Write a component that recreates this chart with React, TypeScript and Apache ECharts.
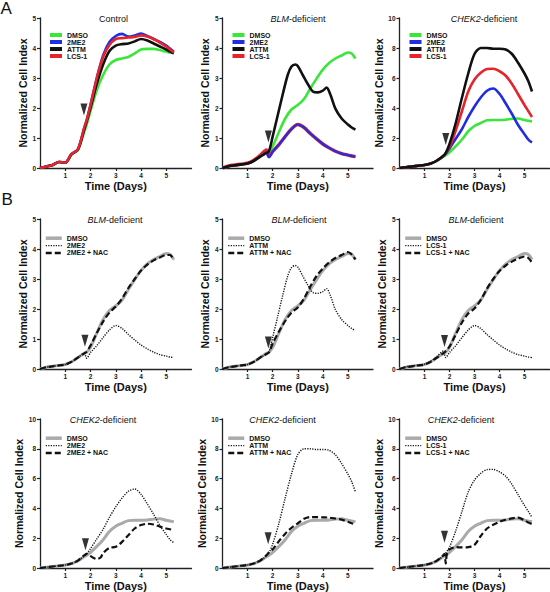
import React, { useEffect, useRef } from 'react';
import * as echarts from 'echarts';

// ---------- data ----------
const TIME = [0, 0.25, 0.5, 0.75, 1, 1.25, 1.5, 1.75, 1.85, 2, 2.25, 2.5, 2.75, 3, 3.25, 3.5, 3.75, 4, 4.25, 4.5, 4.75, 5, 5.15, 5.3];

// A: Control
const CTRL_DMSO = [0, 0.05, 0.1, 0.2, 0.18, 0.45, 0.6, 1.2, 1.45, 1.9, 2.6, 3.1, 3.45, 3.6, 3.65, 3.7, 3.82, 3.95, 3.97, 3.97, 3.93, 3.88, 3.85, 3.83];
const CTRL_2ME2 = [0, 0.05, 0.1, 0.2, 0.18, 0.47, 0.62, 1.32, 1.6, 2.1, 3.0, 3.75, 4.2, 4.4, 4.47, 4.38, 4.42, 4.48, 4.4, 4.3, 4.2, 4.08, 3.98, 3.88];
const CTRL_ATTM = [0, 0.05, 0.1, 0.2, 0.18, 0.46, 0.61, 1.28, 1.55, 2.0, 2.8, 3.45, 3.9, 4.08, 4.13, 4.15, 4.22, 4.3, 4.25, 4.15, 4.05, 3.95, 3.88, 3.82];
const CTRL_LCS1 = [0, 0.05, 0.1, 0.2, 0.18, 0.47, 0.62, 1.35, 1.6, 2.1, 3.0, 3.7, 4.1, 4.3, 4.33, 4.35, 4.37, 4.42, 4.38, 4.3, 4.18, 4.05, 3.95, 3.85];

// A: BLM-deficient
const BLM_DMSO = [0, 0.06, 0.09, 0.12, 0.15, 0.24, 0.38, 0.52, 0.56, 0.72, 1.2, 1.65, 1.95, 2.1, 2.3, 2.65, 2.98, 3.28, 3.5, 3.65, 3.75, 3.85, 3.82, 3.65];
const BLM_2ME2 = [0, 0.06, 0.09, 0.12, 0.15, 0.24, 0.38, 0.52, 0.36, 0.55, 0.78, 1.05, 1.3, 1.45, 1.35, 1.15, 0.97, 0.8, 0.67, 0.56, 0.48, 0.43, 0.4, 0.38];
const BLM_LCS1 = [0, 0.07, 0.1, 0.13, 0.16, 0.26, 0.42, 0.6, 0.38, 0.55, 0.78, 1.05, 1.3, 1.45, 1.35, 1.15, 0.97, 0.8, 0.67, 0.56, 0.48, 0.43, 0.4, 0.38];
const BLM_ATTM_TIME = [0, 0.25, 0.5, 0.75, 1, 1.25, 1.5, 1.75, 1.85, 2, 2.2, 2.4, 2.6, 2.75, 2.9, 3, 3.2, 3.4, 3.6, 3.8, 4, 4.15, 4.3, 4.5, 4.75, 5, 5.15, 5.3];
const BLM_ATTM = [0, 0.06, 0.09, 0.12, 0.15, 0.24, 0.38, 0.5, 0.55, 1.05, 1.75, 2.45, 3.1, 3.38, 3.45, 3.4, 3.1, 2.8, 2.55, 2.52, 2.58, 2.68, 2.45, 1.98, 1.65, 1.45, 1.35, 1.28];

// A: CHEK2-deficient
const CHEK_DMSO = [0, 0.05, 0.1, 0.15, 0.2, 0.3, 0.48, 0.75, 0.85, 1.05, 1.45, 1.9, 2.45, 2.8, 3.0, 3.18, 3.2, 3.2, 3.22, 3.28, 3.3, 3.2, 3.15, 3.1];
const CHEK_2ME2 = [0, 0.05, 0.1, 0.15, 0.2, 0.3, 0.5, 0.8, 0.95, 1.3, 1.95, 2.6, 3.4, 4.1, 4.7, 5.15, 5.3, 4.95, 4.3, 3.6, 2.85, 2.25, 1.9, 1.7];
const CHEK_ATTM = [0, 0.05, 0.1, 0.15, 0.2, 0.3, 0.5, 0.8, 1.0, 1.6, 3.0, 4.7, 6.3, 7.6, 8.0, 8.0, 7.95, 7.95, 7.9, 7.6, 7.0, 6.3, 5.8, 5.1];
const CHEK_LCS1 = [0, 0.05, 0.1, 0.15, 0.2, 0.3, 0.5, 0.8, 1.0, 1.4, 2.5, 3.8, 5.1, 5.9, 6.35, 6.6, 6.62, 6.45, 6.15, 5.6, 4.9, 4.2, 3.8, 3.4];

// B: + NAC
const BLM_2ME2_NAC = [0, 0.06, 0.09, 0.12, 0.15, 0.24, 0.38, 0.52, 0.58, 0.78, 1.2, 1.58, 1.88, 2.08, 2.35, 2.7, 3.0, 3.28, 3.48, 3.62, 3.72, 3.8, 3.8, 3.62];
const BLM_ATTM_NAC = [0, 0.06, 0.09, 0.12, 0.15, 0.24, 0.38, 0.5, 0.55, 0.85, 1.25, 1.6, 1.88, 2.05, 2.35, 2.75, 3.1, 3.35, 3.55, 3.7, 3.8, 3.9, 3.82, 3.65];
const BLM_LCS1_NAC = [0, 0.06, 0.09, 0.12, 0.15, 0.24, 0.38, 0.52, 0.6, 0.75, 1.15, 1.55, 1.85, 2.02, 2.3, 2.68, 3.0, 3.27, 3.45, 3.58, 3.68, 3.75, 3.7, 3.55];
const CHEK_2ME2_NAC_TIME = [0, 0.25, 0.5, 0.75, 1, 1.25, 1.5, 1.75, 1.85, 2, 2.25, 2.4, 2.5, 2.75, 3, 3.25, 3.5, 3.75, 4, 4.25, 4.5, 4.75, 5, 5.15, 5.3];
const CHEK_2ME2_NAC = [0, 0.05, 0.1, 0.15, 0.2, 0.3, 0.5, 0.85, 0.95, 0.8, 0.6, 0.7, 1.0, 1.35, 1.42, 1.75, 2.2, 2.65, 2.88, 2.97, 2.92, 2.78, 2.65, 2.6, 2.55];
const CHEK_ATTM_NAC = [0, 0.05, 0.1, 0.15, 0.2, 0.3, 0.5, 0.85, 1.05, 1.25, 1.8, 2.3, 2.7, 3.0, 3.3, 3.42, 3.42, 3.4, 3.38, 3.32, 3.25, 3.1, 3.0, 2.92];
const CHEK_LCS1_NAC_TIME = [0, 0.25, 0.5, 0.75, 1, 1.25, 1.5, 1.75, 1.8, 1.85, 1.9, 2, 2.25, 2.5, 2.75, 3, 3.25, 3.5, 3.75, 4, 4.25, 4.5, 4.75, 5, 5.15, 5.3];
const CHEK_LCS1_NAC = [0, 0.05, 0.1, 0.15, 0.2, 0.3, 0.5, 0.85, 0.95, 0.3, 1.0, 1.25, 1.4, 1.38, 1.4, 1.55, 2.15, 2.65, 2.9, 3.1, 3.24, 3.33, 3.38, 3.2, 3.05, 2.95];

// treatment arrowheads [day, value]
const ARROWS = [
  [1.74, 1.95], [1.83, 1.05], [1.85, 1.93],
  [1.78, 0.94], [1.83, 0.88], [1.8, 0.93],
  [1.8, 1.6], [1.82, 2.0], [1.8, 2.1],
];

const X_TICKS = [1, 2, 3, 4, 5];

// ---------- layout / style ----------
const GRID_LEFT = [40, 222.5, 399.5];
const GRID_WIDTH = [151.5, 150.5, 150];
const GRID_TOP = [18, 219, 419];
const GRID_HEIGHT = [150, 150, 149];
const TITLE_X = [113.5, 298, 484, 115, 299, 476, 103, 282.5, 461];

const GREEN = '#3be63b';
const BLUE = '#1f2fe0';
const BLACK = '#111111';
const RED = '#e5242b';
const GRAY = '#aaaaaa';
const DOT = [1.2, 1.3];
const DASH = [6, 3];
const FONT = "'Liberation Sans', Arial, sans-serif";

type LineDef = { name: string; t: number[]; v: number[]; color: string; width: number; dash?: number[]; legendWidth: number };

const solid = (name: string, t: number[], v: number[], color: string, width = 2.6): LineDef => ({ name, t, v, color, width, legendWidth: 4 });
const gray = (v: number[], t: number[] = TIME): LineDef => ({ name: 'DMSO', t, v, color: GRAY, width: 3, legendWidth: 3.5 });
const dotted = (name: string, v: number[], t: number[] = TIME): LineDef => ({ name, t, v, color: BLACK, width: 1.4, dash: DOT, legendWidth: 1.4 });
const dashed = (name: string, v: number[], t: number[] = TIME): LineDef => ({ name, t, v, color: BLACK, width: 2.2, dash: DASH, legendWidth: 2.4 });

const PANELS: { title: string; ymax: number; yint: number; lines: LineDef[]; legend: string[] }[] = [
  { title: 'Control', ymax: 5, yint: 1,
    lines: [solid('DMSO', TIME, CTRL_DMSO, GREEN), solid('2ME2', TIME, CTRL_2ME2, BLUE), solid('ATTM', TIME, CTRL_ATTM, BLACK), solid('LCS-1', TIME, CTRL_LCS1, RED)],
    legend: ['DMSO', '2ME2', 'ATTM', 'LCS-1'] },
  { title: '{i|BLM}-deficient', ymax: 5, yint: 1,
    lines: [solid('DMSO', TIME, BLM_DMSO, GREEN), solid('LCS-1', TIME, BLM_LCS1, RED, 3.4), solid('2ME2', TIME, BLM_2ME2, BLUE, 2.2), solid('ATTM', BLM_ATTM_TIME, BLM_ATTM, BLACK)],
    legend: ['DMSO', '2ME2', 'ATTM', 'LCS-1'] },
  { title: '{i|CHEK2}-deficient', ymax: 10, yint: 2,
    lines: [solid('DMSO', TIME, CHEK_DMSO, GREEN), solid('2ME2', TIME, CHEK_2ME2, BLUE), solid('LCS-1', TIME, CHEK_LCS1, RED), solid('ATTM', TIME, CHEK_ATTM, BLACK)],
    legend: ['DMSO', '2ME2', 'ATTM', 'LCS-1'] },
  { title: '{i|BLM}-deficient', ymax: 5, yint: 1,
    lines: [gray(BLM_DMSO), dotted('2ME2', BLM_2ME2), dashed('2ME2 + NAC', BLM_2ME2_NAC)],
    legend: ['DMSO', '2ME2', '2ME2 + NAC'] },
  { title: '{i|BLM}-deficient', ymax: 5, yint: 1,
    lines: [gray(BLM_DMSO), dotted('ATTM', BLM_ATTM, BLM_ATTM_TIME), dashed('ATTM + NAC', BLM_ATTM_NAC)],
    legend: ['DMSO', 'ATTM', 'ATTM + NAC'] },
  { title: '{i|BLM}-deficient', ymax: 5, yint: 1,
    lines: [gray(BLM_DMSO), dotted('LCS-1', BLM_LCS1), dashed('LCS-1 + NAC', BLM_LCS1_NAC)],
    legend: ['DMSO', 'LCS-1', 'LCS-1 + NAC'] },
  { title: '{i|CHEK2}-deficient', ymax: 10, yint: 2,
    lines: [gray(CHEK_DMSO), dotted('2ME2', CHEK_2ME2), dashed('2ME2 + NAC', CHEK_2ME2_NAC, CHEK_2ME2_NAC_TIME)],
    legend: ['DMSO', '2ME2', '2ME2 + NAC'] },
  { title: '{i|CHEK2}-deficient', ymax: 10, yint: 2,
    lines: [gray(CHEK_DMSO), dotted('ATTM', CHEK_ATTM), dashed('ATTM + NAC', CHEK_ATTM_NAC)],
    legend: ['DMSO', 'ATTM', 'ATTM + NAC'] },
  { title: '{i|CHEK2}-deficient', ymax: 10, yint: 2,
    lines: [gray(CHEK_DMSO), dotted('LCS-1', CHEK_LCS1), dashed('LCS-1 + NAC', CHEK_LCS1_NAC, CHEK_LCS1_NAC_TIME)],
    legend: ['DMSO', 'LCS-1', 'LCS-1 + NAC'] },
];

const zip = (t: number[], v: number[]) => t.map((x, i) => [x, v[i]]);

function buildOption() {
  const grid: any[] = [];
  const xAxis: any[] = [];
  const yAxis: any[] = [];
  const series: any[] = [];
  const legend: any[] = [];
  const title: any[] = [
    { text: 'A', left: 0.5, top: 0, padding: 0, textStyle: { fontSize: 17, fontWeight: 'normal', color: '#111', fontFamily: FONT } },
    { text: 'B', left: 1.5, top: 191, padding: 0, textStyle: { fontSize: 17, fontWeight: 'normal', color: '#111', fontFamily: FONT } },
  ];
  const axisColor = '#222';

  PANELS.forEach((p, i) => {
    const row = Math.floor(i / 3);
    const col = i % 3;
    const isA = row === 0;
    grid.push({ left: GRID_LEFT[col], top: GRID_TOP[row], width: GRID_WIDTH[col], height: GRID_HEIGHT[row], containLabel: false });
    xAxis.push({
      type: 'value', gridIndex: i, min: 0, max: 6, interval: 1,
      axisLine: { show: true, lineStyle: { color: axisColor, width: 1.3 } },
      axisTick: { show: true, length: 3, customValues: X_TICKS, lineStyle: { color: axisColor, width: 1.2 } },
      axisLabel: { customValues: X_TICKS, fontSize: 6.5, fontWeight: 'bold', color: '#222', margin: 4, fontFamily: FONT },
      splitLine: { show: false },
      name: 'Time (Days)', nameLocation: 'middle', nameGap: 12,
      nameTextStyle: { fontSize: 11, fontWeight: 'bold', color: '#111', fontFamily: FONT },
    });
    yAxis.push({
      type: 'value', gridIndex: i, min: 0, max: p.ymax, interval: p.yint,
      axisLine: { show: true, lineStyle: { color: axisColor, width: 1.3 } },
      axisTick: { show: true, length: 3, lineStyle: { color: axisColor, width: 1.2 } },
      axisLabel: { fontSize: 6.5, fontWeight: 'bold', color: '#222', margin: 4, fontFamily: FONT },
      splitLine: { show: false },
      name: 'Normalized Cell Index', nameLocation: 'middle', nameGap: 8,
      nameTextStyle: { fontSize: 10.5, fontWeight: 'bold', color: '#111', fontFamily: FONT },
    });
    title.push({
      text: p.title, left: TITLE_X[i], top: GRID_TOP[row] + 0.5, padding: 0,
      textAlign: 'center', textVerticalAlign: 'middle',
      textStyle: { fontSize: 9, fontWeight: 'normal', color: '#111', fontFamily: FONT,
        rich: { i: { fontStyle: 'italic', fontWeight: 'normal', fontSize: 9, color: '#111', fontFamily: FONT } } },
    });
    p.lines.forEach((l) => {
      series.push({
        type: 'line', name: `p${i}|${l.name}`, xAxisIndex: i, yAxisIndex: i,
        data: zip(l.t, l.v), symbol: 'none', smooth: 0.3, silent: true,
        lineStyle: { color: l.color, width: l.width, type: l.dash ? l.dash : 'solid', cap: 'butt' },
        itemStyle: { color: l.color },
      });
    });
    series.push({
      type: 'scatter', name: `arrow${i}`, xAxisIndex: i, yAxisIndex: i,
      data: [ARROWS[i]], symbol: 'triangle', symbolRotate: 180, symbolSize: [7, 12],
      itemStyle: { color: '#000' }, silent: true, z: 10,
    });
    const rowH = isA ? 7 : 7.4;
    legend.push({
      orient: 'vertical', selectedMode: false, padding: 0,
      left: GRID_LEFT[col] + (isA ? 8 : 4),
      top: isA ? GRID_TOP[row] + 13.5 : GRID_TOP[row] + 15.5,
      itemWidth: isA ? 12 : 16, itemHeight: rowH, itemGap: 0,
      data: p.legend.map((n) => {
        const l = p.lines.find((x) => x.name === n)!;
        return {
          name: `p${i}|${n}`,
          lineStyle: { width: l.legendWidth },
          itemStyle: { color: 'rgba(0,0,0,0)', borderColor: 'rgba(0,0,0,0)', borderWidth: 0, opacity: 0 },
        };
      }),
      formatter: (name: string) => name.split('|')[1],
      textStyle: { fontSize: 7, fontWeight: 'bold', color: '#111', lineHeight: rowH, fontFamily: FONT },
    });
  });

  return {
    animation: false,
    backgroundColor: '#ffffff',
    textStyle: { fontFamily: FONT },
    title, grid, xAxis, yAxis, series, legend,
  };
}

export default function App() {
  const ref = useRef<HTMLDivElement>(null);
  useEffect(() => {
    if (!ref.current) return;
    const chart = echarts.init(ref.current, undefined, { renderer: 'svg' });
    chart.setOption(buildOption() as any);
    return () => chart.dispose();
  }, []);
  return (
    <div
      ref={ref}
      style={{ position: 'absolute', left: 0, top: 0, width: 550, height: 592, background: '#fff' }}
    />
  );
}
